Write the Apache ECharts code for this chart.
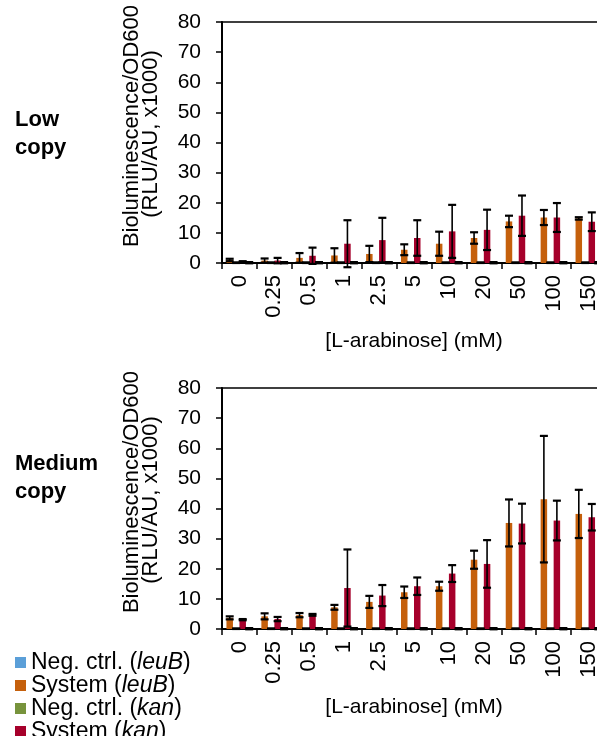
<!DOCTYPE html>
<html>
<head>
<meta charset="utf-8">
<script src="https://cdn.jsdelivr.net/npm/echarts@6/dist/echarts.min.js"></script>
<style>
  html, body { margin: 0; padding: 0; background: #fff; overflow: hidden; }
  /* the plot runs slightly past the right edge in the source figure */
  #chart { width: 615px; height: 736px; }
</style>
</head>
<body>
<div id="chart"></div>
<script>
// [L-arabinose] (mM)
const categories = ['0', '0.25', '0.5', '1', '2.5', '5', '10', '20', '50', '100', '150'];

// Low copy
const lowSysLeuB    = [1.0, 0.8, 1.7, 2.5, 3.0, 4.4, 6.4, 8.3, 13.8, 15.1, 14.8];
const lowSysLeuBErr = [0.4, 0.7, 1.6, 2.4, 2.7, 1.8, 4.0, 1.9, 1.9, 2.5, 0.4];
const lowSysKan     = [0.4, 0.8, 2.4, 6.4, 7.6, 8.3, 10.5, 11.0, 15.7, 15.1, 13.7];
const lowSysKanErr  = [0.2, 0.9, 2.7, 7.8, 7.4, 5.9, 8.8, 6.7, 6.7, 4.8, 3.1];
const lowNegLeuB    = [0.1, 0.1, 0.1, 0.1, 0.1, 0.1, 0.1, 0.1, 0.1, 0.1, 0.1];
const lowNegLeuBErr = [0.1, 0.1, 0.1, 0.1, 0.1, 0.1, 0.1, 0.1, 0.1, 0.1, 0.1];
const lowNegKan     = [0.1, 0.1, 0.1, 0.1, 0.1, 0.1, 0.1, 0.1, 0.1, 0.1, 0.1];
const lowNegKanErr  = [0.2, 0.2, 0.2, 0.2, 0.2, 0.2, 0.2, 0.2, 0.2, 0.2, 0.2];

// Medium copy
const medSysLeuB    = [3.7, 4.2, 4.6, 7.2, 9.0, 12.2, 14.2, 23.0, 35.2, 43.1, 38.2];
const medSysLeuBErr = [0.5, 1.0, 0.7, 0.8, 2.0, 1.9, 1.5, 3.0, 7.8, 21.0, 8.0];
const medSysKan     = [3.1, 3.3, 4.7, 13.6, 11.1, 14.2, 18.4, 21.6, 35.0, 36.0, 37.1];
const medSysKanErr  = [0.2, 0.7, 0.3, 12.8, 3.5, 2.9, 2.8, 7.9, 6.6, 6.6, 4.4];
const medNegLeuB    = [0.1, 0.1, 0.1, 0.1, 0.1, 0.1, 0.1, 0.1, 0.1, 0.1, 0.1];
const medNegLeuBErr = [0.1, 0.1, 0.1, 0.1, 0.1, 0.1, 0.1, 0.1, 0.1, 0.1, 0.1];
const medNegKan     = [0.1, 0.1, 0.1, 0.1, 0.1, 0.1, 0.1, 0.1, 0.1, 0.1, 0.1];
const medNegKanErr  = [0.2, 0.2, 0.2, 0.2, 0.2, 0.2, 0.2, 0.2, 0.2, 0.2, 0.2];

const yTicks = [0, 10, 20, 30, 40, 50, 60, 70, 80];

const FONT = '"Liberation Sans", Arial, sans-serif';
const barW = 6.5;
// bar order inside a group (same as the source figure)
const seriesDefs = [
    {name: 'System (leuB)',    color: '#C5600C'},
    {name: 'Neg. ctrl. (leuB)', color: '#5B9FD8'},
    {name: 'System (kan)',     color: '#A6002B'},
    {name: 'Neg. ctrl. (kan)',  color: '#77933C'}
];
const panels = [
    {vals: [lowSysLeuB, lowNegLeuB, lowSysKan, lowNegKan],
     errs: [lowSysLeuBErr, lowNegLeuBErr, lowSysKanErr, lowNegKanErr]},
    {vals: [medSysLeuB, medNegLeuB, medSysKan, medNegKan],
     errs: [medSysLeuBErr, medNegLeuBErr, medSysKanErr, medNegKanErr]}
];

function errRenderer(k) {
    const off = (k - 1.5) * barW;
    return function (params, api) {
        const x = api.value(0), v = api.value(1), e = api.value(2);
        const top = api.coord([x, v + e]);
        const bot = api.coord([x, v - e]);
        const cx = top[0] + off;
        const cap = {stroke: '#000', lineWidth: 2.2};
        return {
            type: 'group',
            children: [
                {type: 'line', shape: {x1: cx, y1: top[1], x2: cx, y2: bot[1]}, style: {stroke: '#000', lineWidth: 1.6}},
                {type: 'line', shape: {x1: cx - 4, y1: top[1], x2: cx + 4, y2: top[1]}, style: cap},
                {type: 'line', shape: {x1: cx - 4, y1: bot[1], x2: cx + 4, y2: bot[1]}, style: cap}
            ]
        };
    };
}

const grids = [
    {left: 222, width: 384, top: 22, height: 241},
    {left: 222, width: 384, top: 388, height: 241}
];
grids.forEach(g => { g.show = true; g.borderColor = '#000'; g.borderWidth = 1.5; });

const xAxes = grids.map((g, i) => ({
    type: 'category', gridIndex: i, data: categories,
    name: '[L-arabinose] (mM)', nameLocation: 'middle', nameGap: 68,
    nameTextStyle: {fontFamily: FONT, fontSize: 21, color: '#000'},
    axisLine: {lineStyle: {color: '#000', width: 2}},
    axisTick: {show: true, length: 6, lineStyle: {color: '#000', width: 1.5}},
    axisLabel: {interval: 0, rotate: 90, margin: 12, fontFamily: FONT, fontSize: 22, color: '#000'}
}));

const yAxes = grids.map((g, i) => ({
    type: 'value', gridIndex: i, min: yTicks[0], max: yTicks[yTicks.length - 1], interval: 10,
    axisLine: {show: true, lineStyle: {color: '#000', width: 2}},
    axisTick: {show: true, length: 6, lineStyle: {color: '#000', width: 1.5}},
    axisLabel: {margin: 21, fontFamily: FONT, fontSize: 21, color: '#000'},
    splitLine: {show: false}
}));

const series = [];
panels.forEach((p, pi) => {
    seriesDefs.forEach((d, k) => {
        series.push({
            type: 'bar', name: d.name, xAxisIndex: pi, yAxisIndex: pi,
            data: p.vals[k], barWidth: barW, barGap: '0%',
            itemStyle: {color: d.color}, silent: true
        });
    });
    seriesDefs.forEach((d, k) => {
        series.push({
            type: 'custom', name: d.name, xAxisIndex: pi, yAxisIndex: pi,
            data: p.vals[k].map((v, j) => [j, v, p.errs[k][j]]),
            encode: {x: 0, y: 1}, z: 5, silent: true,
            renderItem: errRenderer(k)
        });
    });
});

// rotated y-axis titles, two lines each
const yTitle = [];
[126, 492].forEach(cy => {
    yTitle.push({type: 'text', x: 132, y: cy, rotation: Math.PI / 2,
        style: {text: 'Bioluminescence/OD600', font: '22px ' + FONT, fill: '#000', align: 'center', verticalAlign: 'middle'}});
    yTitle.push({type: 'text', x: 151, y: cy + 8, rotation: Math.PI / 2,
        style: {text: '(RLU/AU, x1000)', font: '22px ' + FONT, fill: '#000', align: 'center', verticalAlign: 'middle'}});
});

const chart = echarts.init(document.getElementById('chart'));
chart.setOption({
    animation: false,
    backgroundColor: '#fff',
    grid: grids,
    xAxis: xAxes,
    yAxis: yAxes,
    legend: {
        orient: 'vertical', left: 15, top: 651, height: 120, padding: 0,
        data: ['Neg. ctrl. (leuB)', 'System (leuB)', 'Neg. ctrl. (kan)', 'System (kan)'],
        icon: 'rect', itemWidth: 11, itemHeight: 11, itemGap: 0,
        selectedMode: false,
        formatter: name => name.replace(/\((\w+)\)/, '({i|$1})'),
        textStyle: {
            fontFamily: FONT, fontSize: 23, color: '#000', lineHeight: 21.7,
            rich: {i: {fontFamily: FONT, fontSize: 23, fontStyle: 'italic', color: '#000', lineHeight: 21.7}}
        }
    },
    graphic: yTitle.concat([
        {type: 'text', left: 15, top: 106,
         style: {text: 'Low\ncopy', font: 'bold 22px ' + FONT, fill: '#000', lineHeight: 28}},
        {type: 'text', left: 15, top: 450,
         style: {text: 'Medium\ncopy', font: 'bold 22px ' + FONT, fill: '#000', lineHeight: 28}}
    ]),
    series: series
});
</script>
</body>
</html>
